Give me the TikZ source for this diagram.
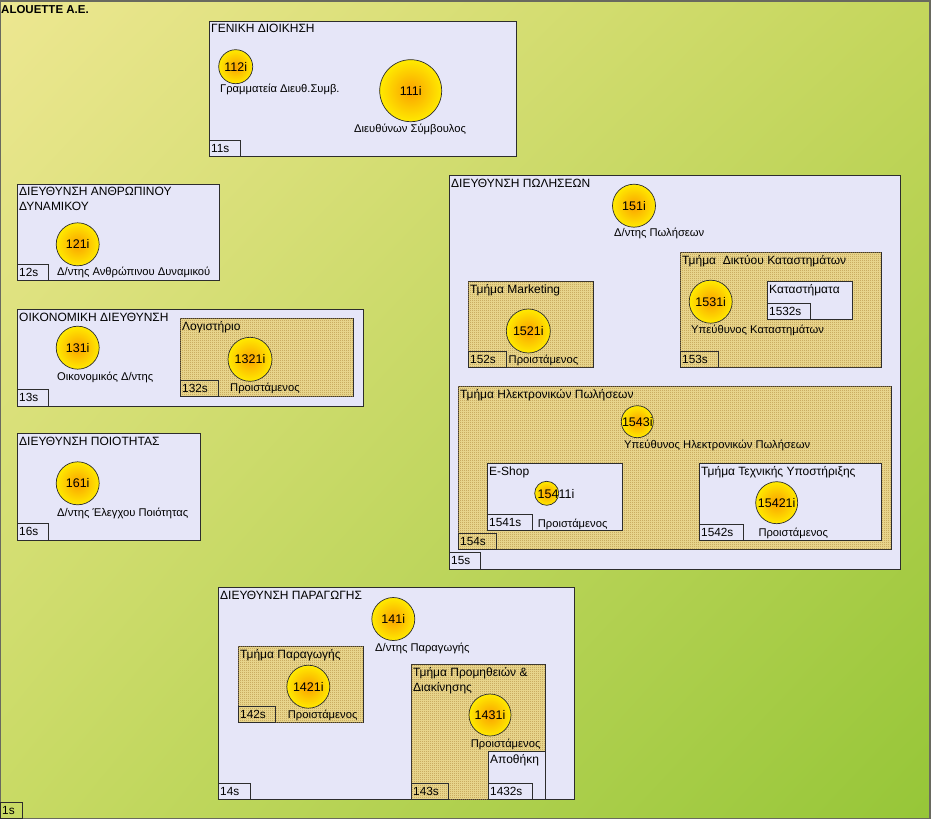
\documentclass[tikz,border=0pt]{standalone}
\usepackage{fontspec}
\setmainfont{Liberation Sans}
\usetikzlibrary{patterns,shadings}
\pgfdeclarepatternformonly{checker}{\pgfpointorigin}{\pgfqpoint{2pt}{2pt}}{\pgfqpoint{2pt}{2pt}}{%
  \pgfpathrectangle{\pgfpointorigin}{\pgfqpoint{1pt}{1pt}}%
  \pgfpathrectangle{\pgfqpoint{1pt}{1pt}}{\pgfqpoint{1pt}{1pt}}%
  \pgfusepath{fill}}
\definecolor{lav}{RGB}{230,230,248}
\definecolor{tanbg}{RGB}{238,222,150}
\definecolor{tanfg}{RGB}{184,146,70}
\definecolor{edge}{RGB}{45,45,45}
\definecolor{cyel}{RGB}{255,234,0}
\definecolor{corg}{RGB}{250,160,0}
\definecolor{bgA}{RGB}{237,231,145}
\definecolor{bgB}{RGB}{196,214,92}
\definecolor{bgC}{RGB}{200,218,100}
\definecolor{bgD}{RGB}{150,198,56}
\definecolor{framec}{RGB}{105,105,95}
\newcommand\mytab[6]{\node[tabbox,minimum width=#4pt,minimum height=#5pt] (#1) at (#2,#3) {};
  \node[tabtxt] (#1t) at ([xshift=2pt]#1.west) {#6};}
\newcommand\mybox[6]{\node[#6,minimum width=#4pt,minimum height=#5pt] (#1) at (#2,#3) {};}
\newcommand\mycirc[5]{\node[circ,minimum size=#4pt] (#1) at (#2,#3) {#5};}
\begin{document}
\begin{tikzpicture}[x=1pt,y=-1pt,
  lavbox/.style={draw=edge,line width=0.8pt,fill=lav,anchor=north west,inner sep=0,outer sep=0},
  hatchbox/.style={draw=edge,line width=0.8pt,fill=tanbg,anchor=north west,inner sep=0,outer sep=0,
     postaction={pattern=checker,pattern color=tanfg}},
  tabbox/.style={draw=edge,line width=0.8pt,anchor=north west,inner sep=0,outer sep=0},
  tabtxt/.style={anchor=west,inner sep=0,font=\fontsize{11.8}{12}\selectfont},
  ttl/.style={anchor=base west,inner sep=0,font=\fontsize{12}{15}\selectfont,align=left},
  lbl/.style={anchor=base west,inner sep=0,font=\fontsize{11.2}{12}\selectfont},
  circ/.style={circle,draw=edge,line width=0.7pt,inner sep=0,shading=radial,inner color=corg,outer color=cyel,font=\fontsize{12.5}{12}\selectfont}]
\useasboundingbox (0,0) rectangle (933,821);
\fill[white] (0,0) rectangle (933,821);
\shade[upper left=bgA,upper right=bgB,lower left=bgC,lower right=bgD] (0,1) rectangle (930,818);
\draw[framec,line width=1.6pt] (0,1) rectangle (930,818.5);
\node[anchor=base west,inner sep=0,font=\bfseries\fontsize{11.5}{12}\selectfont] (root) at (1,14) {ALOUETTE A.E.};
\mytab{s1}{0}{802}{22}{16}{1s}

% 11 Geniki Dioikisi
\mybox{b11}{209}{21}{307}{135}{lavbox}
\node[ttl] (t11) at (211,33) {ΓΕΝΙΚΗ ΔΙΟΙΚΗΣΗ};
\mytab{s11}{209}{140}{31}{16}{11s}
\mycirc{c112}{235.7}{66.7}{34}{112i}
\node[lbl] (l112) at (220,93) {Γραμματεία Διευθ.Συμβ.};
\mycirc{c111}{410.7}{90.7}{62}{111i}
\node[lbl] (l111) at (354,132.7) {Διευθύνων Σύμβουλος};

% 12
\mybox{b12}{17}{184}{202}{96}{lavbox}
\node[ttl] (t12) at (19,210) {ΔΙΕΥΘΥΝΣΗ ΑΝΘΡΩΠΙΝΟΥ\\ΔΥΝΑΜΙΚΟΥ};
\mytab{s12}{17}{264}{31}{16}{12s}
\mycirc{c121}{77.7}{244.3}{43}{121i}
\node[lbl] (l121) at (57,275) {Δ/ντης Ανθρώπινου Δυναμικού};

% 13
\mybox{b13}{17}{309}{346}{97}{lavbox}
\node[ttl] (t13) at (19,321) {ΟΙΚΟΝΟΜΙΚΗ ΔΙΕΥΘΥΝΣΗ};
\mytab{s13}{17}{389}{31}{17}{13s}
\mycirc{c131}{77.7}{347.7}{43}{131i}
\node[lbl] (l131) at (57,380) {Οικονομικός Δ/ντης};
\mybox{b132}{180}{318}{173}{78}{hatchbox}
\node[ttl] (t132) at (182,330) {Λογιστήριο};
\mytab{s132}{180}{380}{38}{16}{132s}
\mycirc{c1321}{250}{359.3}{44}{1321i}
\node[lbl] (l1321) at (230,391.5) {Προιστάμενος};

% 16
\mybox{b16}{17}{433}{183}{107}{lavbox}
\node[ttl] (t16) at (19,445) {ΔΙΕΥΘΥΝΣΗ ΠΟΙΟΤΗΤΑΣ};
\mytab{s16}{17}{523}{31}{17}{16s}
\mycirc{c161}{77.7}{483.3}{43}{161i}
\node[lbl] (l161) at (57,516.5) {Δ/ντης Έλεγχου Ποιότητας};

% 15 Poliseis
\mybox{b15}{449}{175}{451}{394}{lavbox}
\node[ttl] (t15) at (451,187) {ΔΙΕΥΘΥΝΣΗ ΠΩΛΗΣΕΩΝ};
\mytab{s15}{449}{552}{31}{17}{15s}
\mycirc{c151}{634}{205.7}{43}{151i}
\node[lbl] (l151) at (614,236.5) {Δ/ντης Πωλήσεων};

\mybox{b152}{468}{281}{125}{86}{hatchbox}
\node[ttl] (t152) at (470,293) {Τμήμα Marketing};
\mytab{s152}{468}{351}{38}{16}{152s}
\mycirc{c1521}{528.3}{331}{44}{1521i}
\node[lbl] (l1521) at (508.5,363.3) {Προιστάμενος};

\mybox{b153}{680}{252}{201}{115}{hatchbox}
\node[ttl] (t153) at (682,264) {Τμήμα \ Δικτύου Καταστημάτων};
\mytab{s153}{680}{351}{38}{16}{153s}
\mycirc{c1531}{710.7}{301.7}{43}{1531i}
\node[lbl] (l1531) at (691,333.3) {Υπεύθυνος Καταστημάτων};
\mybox{b1532}{767}{281}{85}{38}{lavbox}
\node[ttl] (t1532) at (769,293) {Καταστήματα};
\mytab{s1532}{767}{303}{43}{16}{1532s}

\mybox{b154}{458}{386}{433}{163}{hatchbox}
\node[ttl] (t154) at (460,398) {Τμήμα Ηλεκτρονικών Πωλήσεων};
\mytab{s154}{458}{533}{38}{16}{154s}
\mycirc{c1543}{637.3}{421.7}{32}{1543i}
\node[lbl] (l1543) at (624,448.3) {Υπεύθυνος Ηλεκτρονικών Πωλήσεων};

\mybox{b1541}{487}{463}{135}{67}{lavbox}
\node[ttl] (t1541) at (489,475) {E-Shop};
\mytab{s1541}{487}{514}{45}{16}{1541s}
\mycirc{c15411}{546.7}{493.3}{24}{}
\node[inner sep=0,font=\fontsize{12.5}{12}\selectfont] (n15411) at (556,494) {15411i};
\node[lbl] (l15411) at (537.7,527.7) {Προιστάμενος};

\mybox{b1542}{699}{463}{182}{77}{lavbox}
\node[ttl] (t1542) at (701,475) {Τμήμα Τεχνικής Υποστήριξης};
\mytab{s1542}{699}{524}{44}{16}{1542s}
\mycirc{c15421}{776.7}{502.7}{42}{15421i}
\node[lbl] (l15421) at (758.3,536.7) {Προιστάμενος};

% 14 Paragogi
\mybox{b14}{218}{587}{356}{212}{lavbox}
\node[ttl] (t14) at (220,599) {ΔΙΕΥΘΥΝΣΗ ΠΑΡΑΓΩΓΗΣ};
\mytab{s14}{218}{783}{32}{16}{14s}
\mycirc{c141}{393.3}{619}{43}{141i}
\node[lbl] (l141) at (375,651.7) {Δ/ντης Παραγωγής};

\mybox{b142}{238}{646}{125}{76}{hatchbox}
\node[ttl] (t142) at (240,658) {Τμήμα Παραγωγής};
\mytab{s142}{238}{706}{37}{16}{142s}
\mycirc{c1421}{308.3}{686.7}{43}{1421i}
\node[lbl] (l1421) at (287.7,718.3) {Προιστάμενος};

\mybox{b143}{411}{664}{134}{135}{hatchbox}
\node[ttl] (t143) at (413,691.5) {Τμήμα Προμηθειών \&\\Διακίνησης};
\mytab{s143}{411}{783}{37}{16}{143s}
\mycirc{c1431}{490}{715}{42}{1431i}
\node[lbl] (l1431) at (470.7,747.7) {Προιστάμενος};
\mybox{b1432}{488}{751}{57}{48}{lavbox}
\node[ttl] (t1432) at (490,763) {Αποθήκη};
\mytab{s1432}{488}{783}{44}{16}{1432s}
\end{tikzpicture}
\end{document}
